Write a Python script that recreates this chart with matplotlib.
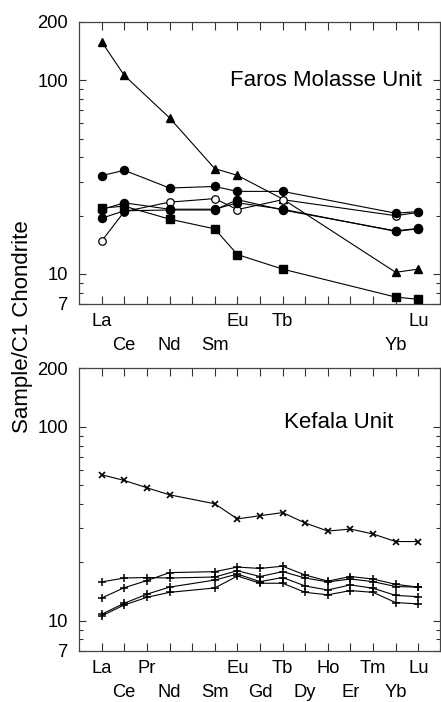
import numpy as np
import matplotlib
matplotlib.use('Agg')
import matplotlib.pyplot as plt
from matplotlib.ticker import FixedLocator, NullFormatter, FixedFormatter

plt.rcParams['font.family'] = ['Liberation Sans', 'DejaVu Sans']

# REE order (Pm has a tick but no data)
ree = ['La', 'Ce', 'Pr', 'Nd', 'Pm', 'Sm', 'Eu', 'Gd', 'Tb', 'Dy', 'Ho', 'Er', 'Tm', 'Yb', 'Lu']

# Faros Molasse Unit - only some elements measured
faros_el = ['La', 'Ce', 'Nd', 'Sm', 'Eu', 'Tb', 'Yb', 'Lu']
faros_tri = [158, 106, 64, 35, 32.3, 24.4, 10.2, 10.6]
faros_circ_a = [32.2, 34.3, 27.8, 28.3, 26.7, 26.7, 20.6, 21.0]
faros_circ_b = [19.4, 21.2, 21.4, 21.4, 24.2, 21.4, 16.7, 17.2]
faros_circ_c = [21.5, 23.3, 21.6, 21.6, 23.3, 21.6, 16.6, 17.1]
faros_open = [14.8, 21.0, 23.5, 24.5, 21.5, 24.2, 20.0, 20.8]
faros_sq = [21.9, 22.4, 19.2, 17.1, 12.6, 10.6, 7.6, 7.4]

# Kefala Unit - all REE except Pm
kef_el = ['La', 'Ce', 'Pr', 'Nd', 'Sm', 'Eu', 'Gd', 'Tb', 'Dy', 'Ho', 'Er', 'Tm', 'Yb', 'Lu']
kef_x = [56.6, 52.9, 48.5, 44.6, 40.1, 33.5, 34.8, 36.1, 31.9, 29.0, 29.7, 28.0, 25.6, 25.6]
kef_p1 = [15.85, 16.6, 16.7, 16.6, 16.8, 18.1, 16.9, 17.9, 16.6, 15.85, 16.4, 15.9, 15.0, 14.9]
kef_p2 = [13.1, 14.8, 16.1, 17.7, 17.9, 18.9, 18.6, 19.1, 17.2, 16.0, 16.9, 16.4, 15.4, 14.9]
kef_p3 = [10.8, 12.3, 13.7, 14.9, 16.2, 17.4, 15.9, 16.7, 15.1, 14.4, 15.3, 14.7, 13.5, 13.3]
kef_p4 = [10.6, 12.05, 13.2, 14.0, 14.75, 17.0, 15.6, 15.6, 14.0, 13.6, 14.3, 14.0, 12.4, 12.2]

# tick labels, two staggered rows per panel
faros_row1 = ['La', 'Eu', 'Tb', 'Lu']
faros_row2 = ['Ce', 'Nd', 'Sm', 'Yb']
kef_row1 = ['La', 'Pr', 'Eu', 'Tb', 'Ho', 'Tm', 'Lu']
kef_row2 = ['Ce', 'Nd', 'Sm', 'Gd', 'Dy', 'Er', 'Yb']

ytick_vals = [7, 10, 100, 200]
yminor_vals = [8, 9, 20, 30, 40, 50, 60, 70, 80, 90]

pos = {el: i + 1 for i, el in enumerate(ree)}

fig = plt.figure(figsize=(4.41, 7.02), dpi=100)
W, H = 441, 702
left, right = 79.3 / W, 440 / W
ax1 = fig.add_axes([left, 1 - 304 / H, right - left, (304 - 22) / H])
ax2 = fig.add_axes([left, 1 - 650.7 / H, right - left, (650.7 - 368.5) / H])

lw = 0.8
fx = [pos[e] for e in faros_el]
ax1.plot(fx, faros_tri, '-', color='k', lw=lw, marker='^', ms=6.3, zorder=3)
ax1.plot(fx, faros_sq, '-', color='k', lw=lw, marker='s', ms=5.5, zorder=3)
ax1.plot(fx, faros_open, '-', color='k', lw=lw, marker='o', ms=5.4, mfc='white', mec='k', mew=0.9, zorder=3)
ax1.plot(fx, faros_circ_c, '-', color='k', lw=lw, marker='o', ms=5.8, zorder=3)
ax1.plot(fx, faros_circ_b, '-', color='k', lw=lw, marker='o', ms=5.8, zorder=3)
ax1.plot(fx, faros_circ_a, '-', color='k', lw=lw, marker='o', ms=5.8, zorder=3)

kx = [pos[e] for e in kef_el]
ax2.plot(kx, kef_x, '-', color='k', lw=lw, marker='x', ms=4.3, mew=1.2, zorder=3)
for series in [kef_p1, kef_p2, kef_p3, kef_p4]:
    ax2.plot(kx, series, '-', color='k', lw=lw, marker='+', ms=5.2, mew=1.1, zorder=3)

for ax, row1, row2 in [(ax1, faros_row1, faros_row2), (ax2, kef_row1, kef_row2)]:
    ax.set_yscale('log')
    ax.set_ylim(7, 200)
    ax.set_xlim(0.01, 15.96)
    ax.yaxis.set_major_locator(FixedLocator(ytick_vals))
    ax.yaxis.set_major_formatter(FixedFormatter([str(v) for v in ytick_vals]))
    ax.yaxis.set_minor_locator(FixedLocator(yminor_vals))
    ax.yaxis.set_minor_formatter(NullFormatter())
    ax.set_xticks(range(1, len(ree) + 1))
    ax.set_xticklabels([])
    ax.tick_params(axis='both', which='both', direction='in', top=True, right=True, color='#333333')
    ax.tick_params(axis='y', which='major', length=5, width=0.8, pad=8, labelsize=13.2)
    ax.tick_params(axis='y', which='minor', length=3, width=0.8)
    ax.tick_params(axis='x', which='major', length=6, width=0.8)
    for sp in ax.spines.values():
        sp.set_color('#444444')
        sp.set_linewidth(0.9)
    tr = ax.get_xaxis_transform()
    for el in row1:
        ax.annotate(el, (pos[el], 0), xycoords=tr, xytext=(0, -12.8), textcoords='offset points',
                    ha='center', va='center', fontsize=13.2)
    for el in row2:
        ax.annotate(el, (pos[el], 0), xycoords=tr, xytext=(0, -30.0), textcoords='offset points',
                    ha='center', va='center', fontsize=13.2)

ax1.text(6.67, 100, 'Faros Molasse Unit', ha='left', va='center', fontsize=16)
ax2.text(13.89, 105, 'Kefala Unit', ha='right', va='center', fontsize=16)

fig.text(23 / W, 1 - 327 / H, 'Sample/C1 Chondrite', rotation=90, ha='center', va='center', fontsize=16)

fig.savefig('out.png', dpi=100)
